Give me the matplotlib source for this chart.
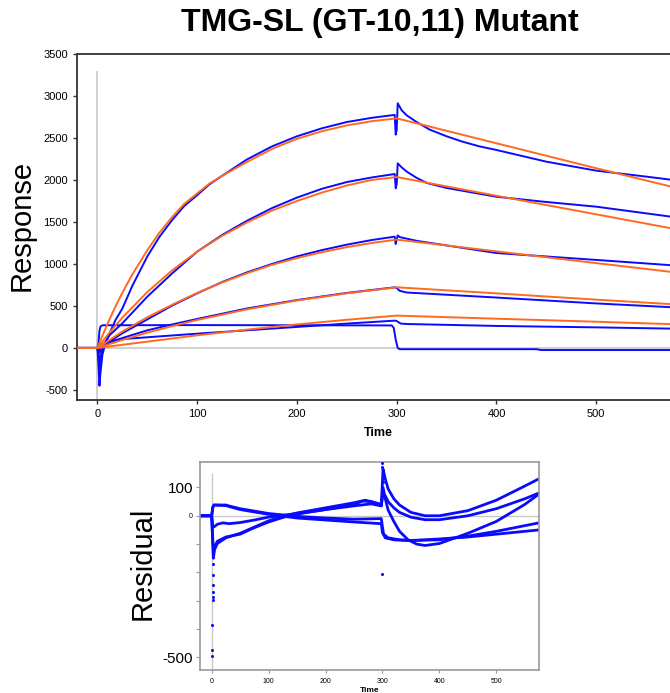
import numpy as np
import matplotlib
matplotlib.use("Agg")
import matplotlib.pyplot as plt

plt.rcParams['font.family'] = ['Liberation Sans', 'DejaVu Sans']
plt.rcParams['axes.unicode_minus'] = False

BLUE = '#0a0aff'
ORANGE = '#ff6a1f'
GRAY = '#c8c8c8'

# ---- sensorgrams (blue = measured, orange = 1:1 fit) ----
t_b1 = [-20, 0, 1, 2, 3, 5, 8, 12, 18, 25, 35, 50, 62, 75, 87, 100, 112, 125, 150, 175, 200, 225, 250, 275, 298, 299, 300, 301, 305, 310, 320, 333, 350, 366, 383, 400, 450, 500, 550, 584]
v_b1 = [0, 0, -200, -450, -300, -80, 60, 170, 330, 470, 740, 1090, 1320, 1525, 1690, 1820, 1945, 2050, 2245, 2400, 2520, 2615, 2690, 2740, 2775, 2540, 2600, 2913, 2830, 2770, 2690, 2600, 2520, 2456, 2400, 2357, 2218, 2111, 2040, 1990]
t_o1 = [-20, 0, 5, 10, 15, 20, 25, 35, 50, 62, 75, 87, 100, 112, 125, 150, 175, 200, 225, 250, 275, 300, 400, 500, 584]
v_o1 = [0, 0, 147, 285, 416, 540, 658, 875, 1164, 1370, 1560, 1715, 1840, 1955, 2050, 2215, 2370, 2490, 2580, 2650, 2700, 2734, 2437, 2140, 1895]

t_b2 = [-20, 0, 1, 2, 4, 7, 12, 25, 50, 75, 100, 125, 150, 175, 200, 225, 250, 275, 298, 299, 300, 301, 305, 310, 320, 330, 350, 400, 450, 500, 575, 584]
v_b2 = [0, 0, -100, -250, -100, 50, 150, 294, 611, 889, 1147, 1345, 1515, 1665, 1790, 1895, 1975, 2030, 2071, 1900, 1950, 2198, 2150, 2100, 2025, 1965, 1905, 1800, 1738, 1682, 1563, 1550]
t_o2 = [-20, 0, 10, 25, 50, 75, 100, 125, 150, 175, 200, 225, 250, 275, 300, 400, 500, 584]
v_o2 = [0, 0, 153, 361, 666, 925, 1147, 1335, 1495, 1635, 1750, 1850, 1935, 2000, 2035, 1812, 1591, 1405]

t_b3 = [-20, 0, 1, 2, 5, 10, 25, 50, 75, 100, 125, 150, 175, 200, 225, 250, 275, 298, 299, 300, 301, 303, 320, 400, 500, 575, 584]
v_b3 = [0, 0, -60, -150, -20, 60, 175, 340, 505, 650, 785, 900, 1000, 1090, 1165, 1230, 1285, 1325, 1238, 1290, 1340, 1320, 1275, 1130, 1048, 985, 975]
t_o3 = [-20, 0, 25, 50, 75, 100, 125, 150, 175, 200, 225, 250, 275, 300, 400, 500, 584]
v_o3 = [0, 0, 195, 365, 515, 655, 780, 890, 990, 1070, 1140, 1200, 1250, 1290, 1150, 1010, 893]

t_b4 = [-20, 0, 2, 6, 10, 25, 50, 75, 100, 150, 200, 250, 298, 300, 303, 310, 400, 500, 575, 584]
v_b4 = [0, 0, -60, 20, 55, 118, 210, 280, 345, 470, 570, 655, 722, 715, 680, 660, 600, 530, 485, 480]
t_o4 = [-20, 0, 25, 50, 75, 100, 150, 200, 250, 300, 400, 500, 584]
v_o4 = [0, 0, 95, 182, 260, 333, 460, 565, 650, 722, 650, 575, 515]

t_b5 = [-20, 0, 2, 5, 10, 25, 50, 100, 150, 200, 250, 298, 300, 304, 310, 400, 500, 575, 584]
v_b5 = [0, 0, -30, 40, 80, 105, 127, 170, 210, 250, 290, 325, 320, 290, 285, 262, 245, 230, 228]
t_o5 = [-20, 0, 50, 100, 150, 200, 250, 300, 400, 500, 584]
v_o5 = [0, 0, 75, 150, 218, 280, 335, 385, 348, 312, 280]

t_b6 = [-20, 0, 1, 2, 3, 5, 100, 200, 295, 297, 299, 301, 303, 440, 445, 584]
v_b6 = [0, 0, 50, 200, 255, 270, 272, 270, 268, 240, 100, 0, -15, -15, -25, -25]

blue_curves = [(t_b1, v_b1), (t_b2, v_b2), (t_b3, v_b3), (t_b4, v_b4), (t_b5, v_b5), (t_b6, v_b6)]
fit_curves = [(t_o1, v_o1), (t_o2, v_o2), (t_o3, v_o3), (t_o4, v_o4), (t_o5, v_o5)]

# ---- residuals ----
t_r1 = [-20, 0, 3, 5, 10, 25, 50, 75, 100, 125, 150, 200, 250, 270, 290, 298, 301, 305, 310, 320, 330, 345, 360, 375, 400, 450, 500, 550, 584]
v_r1 = [0, 0, -150, -120, -98, -78, -62, -40, -18, -2, 10, 28, 46, 55, 45, 40, 100, 60, 20, -20, -55, -85, -100, -105, -98, -62, -20, 40, 90]
t_r2 = [-20, 0, 3, 5, 10, 25, 50, 75, 100, 125, 150, 200, 250, 265, 280, 298, 301, 305, 310, 320, 330, 350, 375, 400, 450, 500, 550, 584]
v_r2 = [0, 0, -130, -110, -90, -75, -65, -42, -22, -6, 6, 22, 40, 52, 50, 35, 165, 130, 95, 60, 38, 12, 0, 0, 18, 55, 105, 140]
t_r3 = [-20, 0, 2, 5, 10, 20, 30, 50, 75, 100, 150, 200, 250, 280, 298, 301, 305, 310, 320, 330, 350, 375, 400, 450, 500, 550, 584]
v_r3 = [0, 0, -40, -38, -30, -25, -28, -24, -15, -5, 8, 22, 35, 42, 35, 80, 70, 50, 28, 12, -5, -14, -14, 0, 25, 60, 88]
t_r4 = [-20, 0, 2, 4, 25, 30, 50, 100, 150, 200, 250, 298, 300, 302, 310, 330, 350, 400, 450, 500, 575, 584]
v_r4 = [0, 0, 30, 38, 38, 35, 25, 8, -2, -8, -12, -10, -40, -65, -78, -85, -87, -85, -72, -55, -25, -21]
t_r5 = [-20, 0, 2, 4, 25, 30, 50, 100, 150, 200, 250, 298, 300, 305, 320, 350, 400, 450, 500, 575, 584]
v_r5 = [0, 0, 30, 38, 36, 33, 22, 5, -8, -15, -22, -28, -60, -78, -85, -88, -82, -75, -65, -50, -48]
resid_curves = [(t_r1, v_r1), (t_r2, v_r2), (t_r3, v_r3), (t_r4, v_r4), (t_r5, v_r5)]

# isolated residual points during injection start / end
t_rdots = [0.5, 1, 1, 1.5, 1.5, 1.5, 2, 2, 2, 2.5, 2.5, 299.5, 300, 300, 300.5, 301]
v_rdots = [-497, -475, -387, -298, -287, -270, -245, -210, -170, -121, -115, -207, 185, 172, 144, 120]

fig = plt.figure(figsize=(6.7, 6.93), dpi=100)

# main sensorgram panel
ax = fig.add_axes([77 / 670, 1 - 400 / 693, 603 / 670, 346 / 693])
ax.axhline(0, color=GRAY, lw=1.2, zorder=1)
ax.vlines(0, -620, 3300, color=GRAY, lw=1.2, zorder=1)
for t, v in blue_curves:
    ax.plot(t, v, color=BLUE, lw=1.4, zorder=2)
for t, v in fit_curves:
    ax.plot(t, v, color=ORANGE, lw=1.4, zorder=3)
ax.set_xlim(-20.5, 584)
ax.set_ylim(-620, 3500)
ax.set_xticks(np.arange(0, 501, 100))
ax.set_yticks(np.arange(-500, 3501, 500))
ax.tick_params(labelsize=8, length=3, width=1, color='#333333')
for s in ['left', 'bottom', 'top']:
    ax.spines[s].set_color('#333333')
    ax.spines[s].set_linewidth(1.3)
ax.spines['right'].set_visible(False)
ax.set_xlabel('Time', fontsize=9, fontweight='bold', labelpad=6)
fig.text(380 / 670, 1 - 23 / 693, 'TMG-SL (GT-10,11) Mutant', fontsize=23,
         fontweight='bold', ha='center', va='center')
fig.text(22 / 670, 1 - 225 / 693, 'Response', fontsize=21, rotation=90,
         ha='center', va='center')

# residual panel
ax2 = fig.add_axes([200 / 670, 1 - 670 / 693, 339 / 670, 208 / 693])
ax2.axhline(0, color=GRAY, lw=1, zorder=1)
ax2.vlines(0, -545, 152, color=GRAY, lw=1, zorder=1)
for t, v in resid_curves:
    ax2.plot(t, v, color=BLUE, lw=2.0, zorder=2)
ax2.plot(t_rdots, v_rdots, 'o', color=BLUE, ms=2.2, mew=0, zorder=3)
ax2.set_xlim(-20.5, 575)
ax2.set_ylim(-545, 190)
ax2.set_xticks(np.arange(0, 501, 100))
ax2.set_yticks([100, 0, -100, -200, -300, -400, -500])
ax2.set_yticklabels(['100', '0', '', '', '', '', '-500'])
for lab in ax2.get_yticklabels():
    lab.set_fontsize(5 if lab.get_text() == '0' else 11)
ax2.tick_params(axis='x', labelsize=5, length=2, color='#999999')
ax2.tick_params(axis='y', length=3, pad=2, color='#999999')
for s in ax2.spines.values():
    s.set_color('#999999')
    s.set_linewidth(1.2)
ax2.set_xlabel('Time', fontsize=6, fontweight='bold', labelpad=2)
fig.text(143 / 670, 1 - 563 / 693, 'Residual', fontsize=21, rotation=90,
         ha='center', va='center')

fig.savefig('out.png', dpi=100)
